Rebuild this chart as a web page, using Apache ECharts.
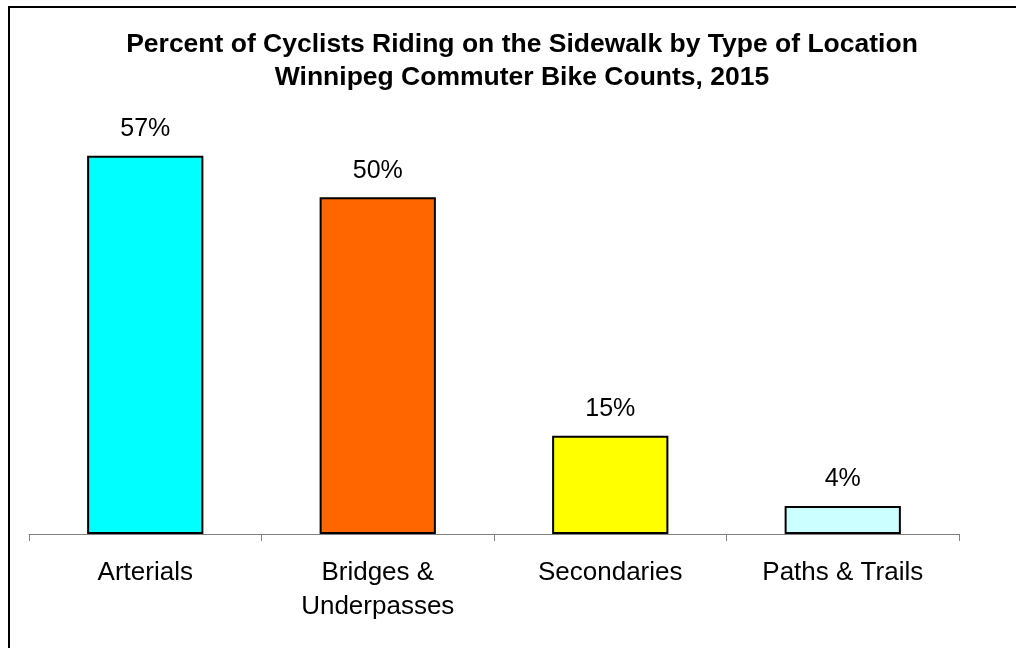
<!DOCTYPE html>
<html>
<head>
<meta charset="utf-8">
<script src="https://cdn.jsdelivr.net/npm/echarts@6/dist/echarts.min.js"></script>
<style>
  html, body { margin: 0; padding: 0; background: #fff; }
  #frame {
    position: absolute; left: 8px; top: 6px; width: 1100px; height: 700px;
    border-left: 2px solid #000; border-top: 2px solid #000; box-sizing: border-box;
  }
  #chart { position: absolute; left: 0; top: 0; width: 1016px; height: 648px; }
</style>
</head>
<body>
<div id="frame"></div>
<div id="chart"></div>
<script>
const titleLines = [
  'Percent of Cyclists Riding on the Sidewalk by Type of Location',
  'Winnipeg Commuter Bike Counts, 2015'
]
const categories = ['Arterials', 'Bridges &\nUnderpasses', 'Secondaries', 'Paths & Trails']
const sidewalkPct = [56.6, 50.4, 14.7, 4.2]
const barColors = ['#00FFFF', '#FF6600', '#FFFF00', '#CCFFFF']

const chart = echarts.init(document.getElementById('chart'))

const option = {
  animation: false,
  textStyle: { fontFamily: '"Liberation Sans", Arial, sans-serif' },
  title: {
    text: titleLines.join('\n'),
    left: 517,
    top: 23,
    textAlign: 'center',
    textStyle: {
      fontSize: 26.5,
      fontWeight: 'bold',
      color: '#000',
      lineHeight: 33,
      fontFamily: '"Liberation Sans", Arial, sans-serif'
    }
  },
  grid: {
    left: 29,
    right: 57,
    top: 133,
    bottom: 114
  },
  xAxis: {
    type: 'category',
    data: categories,
    axisLine: { lineStyle: { color: '#808080', width: 1 } },
    axisTick: { show: true, length: 7, lineStyle: { color: '#808080' } },
    axisLabel: {
      color: '#000',
      fontSize: 26,
      margin: 22,
      lineHeight: 34
    }
  },
  yAxis: {
    type: 'value',
    min: 0,
    max: 60,
    show: false,
    splitLine: { show: false }
  },
  series: [
    {
      type: 'bar',
      barWidth: '50%',
      data: sidewalkPct.map((v, i) => ({
        value: v,
        itemStyle: { color: barColors[i] }
      })),
      itemStyle: {
        borderColor: '#000',
        borderWidth: 2
      },
      label: {
        show: true,
        position: 'top',
        distance: 14,
        color: '#000',
        fontSize: 25,
        formatter: p => Math.round(p.value) + '%'
      }
    }
  ]
}

chart.setOption(option)
</script>
</body>
</html>
